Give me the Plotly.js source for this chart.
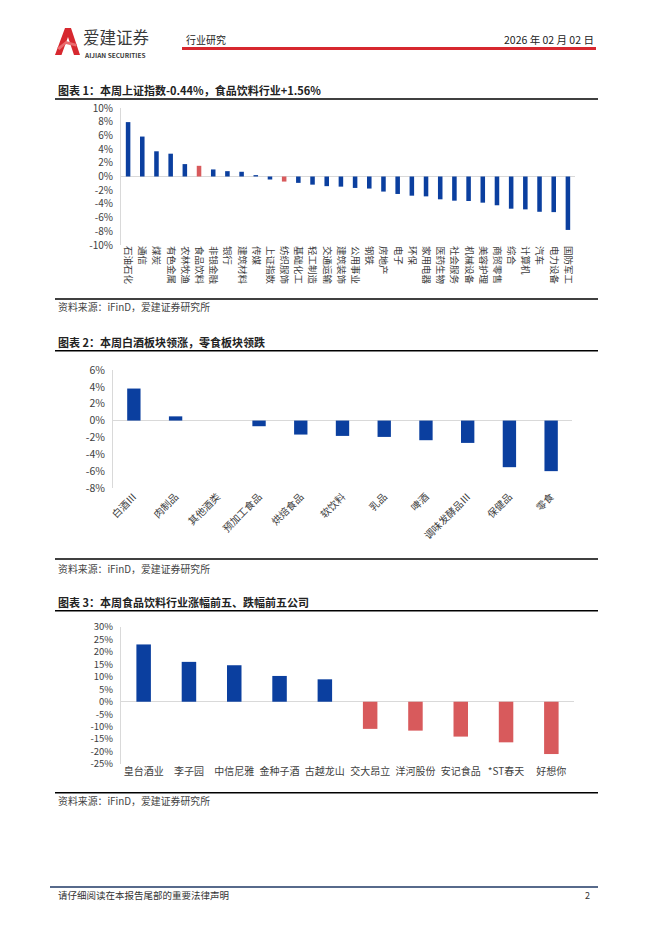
<!DOCTYPE html>
<html><head><meta charset="utf-8">
<script src="https://cdn.plot.ly/plotly-3.0.1.min.js"></script>
<style>html,body{margin:0;padding:0;background:#fff}#c{width:662px;height:936px}</style>
</head><body><div id="c"></div><script>
// ---------- data ----------
const industries = ['石油石化','通信','煤炭','有色金属','农林牧渔','食品饮料','非银金融','银行','建筑材料','传媒','上证指数','纺织服饰','基础化工','轻工制造','交通运输','建筑装饰','公用事业','钢铁','房地产','电子','环保','家用电器','医药生物','社会服务','机械设备','美容护理','商贸零售','综合','计算机','汽车','电力设备','国防军工'];
const industryChange = [7.94,5.83,3.68,3.33,1.81,1.56,1.03,0.78,0.69,0.2,-0.44,-0.74,-0.93,-1.19,-1.41,-1.48,-1.67,-1.76,-2.2,-2.55,-2.8,-2.9,-3.33,-3.53,-3.58,-3.82,-4.2,-4.7,-4.8,-5.15,-5.2,-7.8];
const industryHighlight = ['食品饮料','纺织服饰'];
const y1TickVals = [10,8,6,4,2,0,-2,-4,-6,-8,-10];
const y1TickText = ['10%','8%','6%','4%','2%','0%','-2%','-4%','-6%','-8%','-10%'];

const segments = ['白酒Ⅲ','肉制品','其他酒类','预加工食品','烘焙食品','软饮料','乳品','啤酒','调味发酵品Ⅲ','保健品','零食'];
const segmentChange = [3.8,0.5,0,-0.67,-1.66,-1.82,-1.94,-2.33,-2.65,-5.53,-6.0];
const y2TickVals = [6,4,2,0,-2,-4,-6,-8];
const y2TickText = ['6%','4%','2%','0%','-2%','-4%','-6%','-8%'];

const companies = ['皇台酒业','李子园','中信尼雅','金种子酒','古越龙山','交大昂立','洋河股份','安记食品','*ST春天','好想你'];
const companyChange = [23.0,16.0,14.65,10.35,9.0,-10.9,-11.6,-14.0,-16.3,-21.0];
const y3TickVals = [30,25,20,15,10,5,0,-5,-10,-15,-20,-25];
const y3TickText = ['30%','25%','20%','15%','10%','5%','0%','-5%','-10%','-15%','-20%','-25%'];

// ---------- style ----------
const W = 662, H = 936;
const F = '"Noto Sans CJK SC", "Noto Sans", sans-serif';
const BLUE = '#0b3f9f', RED = '#d85a5c';
const px = x => x / W;
const py = y => 1 - y / H;

const traces = [
  {type:'bar', x: industries, y: industryChange, xaxis:'x', yaxis:'y',
   marker:{color: industries.map(c => industryHighlight.includes(c) ? RED : BLUE)}},
  {type:'bar', x: segments, y: segmentChange, xaxis:'x2', yaxis:'y2',
   marker:{color: BLUE}},
  {type:'bar', x: companies, y: companyChange, xaxis:'x3', yaxis:'y3',
   marker:{color: companyChange.map(v => v >= 0 ? BLUE : RED)}}
];

function yAxis(domain, range, vals, text, anchor, size) {
  return {domain, range, tickmode:'array', tickvals: vals, ticktext: text, anchor,
    showgrid:false, zeroline:true, zerolinecolor:'#d9d9d9', zerolinewidth:1,
    showline:true, linecolor:'#d9d9d9', linewidth:1, ticks:'', ticklabelstandoff:5,
    tickfont:{family:F, size: size, color:'#404040'}, fixedrange:true};
}
function xAxis(domain, anchor, angle, size) {
  return {domain, anchor, tickangle: angle, showgrid:false, zeroline:false, showline:false,
    ticks:'', tickfont:{family:F, size: size, color:'#404040'}, fixedrange:true, automargin:false};
}

function pathPx(pts) {
  return 'M ' + pts.map(p => px(p[0]).toFixed(5) + ',' + py(p[1]).toFixed(5)).join(' L ') + ' Z';
}
const logoOuter = pathPx([[55,55],[65,28],[71,28],[80,55],[74,55],[68,37],[61.5,55]]);
const logoSwoosh = pathPx([[57,48],[66,41],[77,44],[76,46.5],[66,44],[59.5,50]]);

function hline(y, x0, x1, color, w) {
  return {type:'line', xref:'paper', yref:'paper', x0:px(x0), x1:px(x1), y0:py(y), y1:py(y),
    line:{color, width:w}};
}
function txt(text, x, y, size, color, anchor) {
  return {text, x:px(x), y:py(y), xref:'paper', yref:'paper', xanchor: anchor || 'left',
    yanchor:'middle', showarrow:false, font:{family:F, size, color}};
}

const layout = {
  width: W, height: H, autosize:false, margin:{l:0,r:0,t:0,b:0},
  paper_bgcolor:'#fff', plot_bgcolor:'#fff', showlegend:false, bargap:0.68,
  xaxis: xAxis([px(121), px(575)], 'y', 90, 9.5),
  yaxis: yAxis([py(245), py(108)], [-10,10], y1TickVals, y1TickText, 'x', 10),
  xaxis2: xAxis([px(113), px(572)], 'y2', -45, 10),
  yaxis2: yAxis([py(488), py(370)], [-8,6], y2TickVals, y2TickText, 'x2', 10.5),
  xaxis3: xAxis([px(121), px(574)], 'y3', 0, 10),
  yaxis3: yAxis([py(764), py(627)], [-25,30], y3TickVals, y3TickText, 'x3', 9.5),
  shapes: [
    {type:'path', xref:'paper', yref:'paper', path: logoOuter, fillcolor:'#d7282f', line:{width:0}},
    {type:'path', xref:'paper', yref:'paper', path: logoSwoosh, fillcolor:'#ea6a6d', line:{width:0}},
    hline(48.5, 182, 596, '#d7282f', 2.8),
    hline(99, 55, 598, '#000', 1.5),
    hline(299, 55, 598, '#000', 1.5),
    hline(350.7, 55, 598, '#000', 1.5),
    hline(559, 55, 598, '#000', 1.5),
    hline(610.7, 55, 598, '#000', 1.5),
    hline(792.7, 55, 598, '#000', 1.5),
    hline(887, 50, 598, '#1f3864', 1.5)
  ],
  annotations: [
    txt('爱建证券', 81, 37.5, 16.5, '#3a3a3a'),
    txt('<b>AIJIAN SECURITIES</b>', 82, 54.5, 6.5, '#3a3a3a'),
    txt('行业研究', 184, 40, 10, '#222'),
    txt('2026 年 02 月 02 日', 596, 40, 10.5, '#222', 'right'),
    txt('<b>图表 1：本周上证指数-0.44%，食品饮料行业+1.56%</b>', 56, 90, 11, '#222'),
    txt('资料来源：iFinD，爱建证券研究所', 56, 307, 9.9, '#444'),
    txt('<b>图表 2：本周白酒板块领涨，零食板块领跌</b>', 56, 341.7, 11, '#222'),
    txt('资料来源：iFinD，爱建证券研究所', 56, 569, 9.9, '#444'),
    txt('<b>图表 3：本周食品饮料行业涨幅前五、跌幅前五公司</b>', 56, 601.7, 11, '#222'),
    txt('资料来源：iFinD，爱建证券研究所', 56, 801, 9.9, '#444'),
    txt('请仔细阅读在本报告尾部的重要法律声明', 56, 895, 9.5, '#333'),
    txt('2', 592, 895, 9, '#333', 'right')
  ]
};

Plotly.newPlot('c', traces, layout, {staticPlot:true, displayModeBar:false});
</script></body></html>
